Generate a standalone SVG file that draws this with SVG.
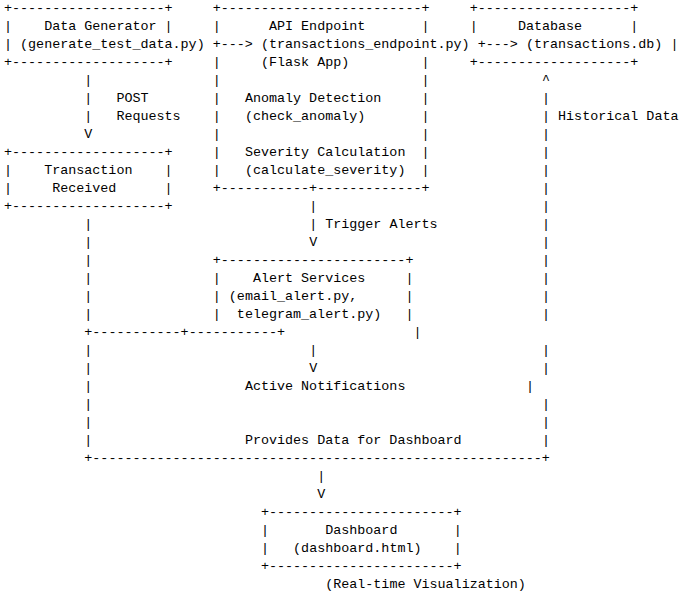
<svg xmlns="http://www.w3.org/2000/svg" width="690" height="613" viewBox="0 0 690 613" xml:space="preserve">
<style>
text { font-family: "Liberation Mono", "DejaVu Sans Mono", monospace; font-size: 13.38px; fill: #000; white-space: pre; }
</style>
<rect x="0" y="0" width="690" height="613" fill="#fff"/>
<g id="data-generator">
<text x="4" y="11.5">+-------------------+</text>
<text x="4" y="29.5">|</text><text x="44.15" y="29.5">Data Generator</text><text x="164.6" y="29.5">|</text>
<text x="4" y="47.5">| (generate_test_data.py)</text>
<text x="4" y="65.5">+-------------------+</text>
</g>
<g id="api-endpoint">
<text x="212.78" y="11.5">+-------------------------+</text>
<text x="212.78" y="29.5">|</text><text x="268.99" y="29.5">API Endpoint</text><text x="421.56" y="29.5">|</text>
<text x="260.96" y="47.5">(transactions_endpoint.py)</text>
<text x="212.78" y="65.5">|</text><text x="260.96" y="65.5">(Flask App)</text><text x="421.56" y="65.5">|</text>
<text x="212.78" y="83.5">|</text><text x="421.56" y="83.5">|</text>
<text x="212.78" y="101.5">|</text><text x="244.9" y="101.5">Anomaly Detection</text><text x="421.56" y="101.5">|</text>
<text x="212.78" y="119.5">|</text><text x="244.9" y="119.5">(check_anomaly)</text><text x="421.56" y="119.5">|</text>
<text x="212.78" y="137.5">|</text><text x="421.56" y="137.5">|</text>
<text x="212.78" y="155.5">|</text><text x="244.9" y="155.5">Severity Calculation</text><text x="421.56" y="155.5">|</text>
<text x="212.78" y="173.5">|</text><text x="244.9" y="173.5">(calculate_severity)</text><text x="421.56" y="173.5">|</text>
<text x="212.78" y="191.5">+-----------+-------------+</text>
</g>
<g id="database">
<text x="469.74" y="11.5">+-------------------+</text>
<text x="469.74" y="29.5">|</text><text x="517.92" y="29.5">Database</text><text x="630.34" y="29.5">|</text>
<text x="525.95" y="47.5">(transactions.db)</text><text x="670.49" y="47.5">|</text>
<text x="469.74" y="65.5">+-------------------+</text>
</g>
<g id="transaction-received">
<text x="4" y="155.5">+-------------------+</text>
<text x="4" y="173.5">|</text><text x="44.15" y="173.5">Transaction</text><text x="164.6" y="173.5">|</text>
<text x="4" y="191.5">|</text><text x="52.18" y="191.5">Received</text><text x="164.6" y="191.5">|</text>
<text x="4" y="209.5">+-------------------+</text>
</g>
<g id="alert-services">
<text x="212.78" y="263.5">+-----------------------+</text>
<text x="212.78" y="281.5">|</text><text x="252.93" y="281.5">Alert Services</text><text x="405.5" y="281.5">|</text>
<text x="212.78" y="299.5">|</text><text x="228.84" y="299.5">(email_alert.py,</text><text x="405.5" y="299.5">|</text>
<text x="212.78" y="317.5">|</text><text x="236.87" y="317.5">telegram_alert.py)</text><text x="405.5" y="317.5">|</text>
</g>
<g id="dashboard">
<text x="260.96" y="515.5">+-----------------------+</text>
<text x="260.96" y="533.5">|</text><text x="325.2" y="533.5">Dashboard</text><text x="453.68" y="533.5">|</text>
<text x="260.96" y="551.5">|</text><text x="293.08" y="551.5">(dashboard.html)</text><text x="453.68" y="551.5">|</text>
<text x="260.96" y="569.5">+-----------------------+</text>
<text x="325.2" y="587.5">(Real-time Visualization)</text>
</g>
<g id="connectors">
<text x="212.78" y="47.5">+---&gt;</text>
<text x="477.77" y="47.5">+---&gt;</text>
<text x="84.3" y="83.5">|</text>
<text x="84.3" y="101.5">|</text><text x="116.42" y="101.5">POST</text>
<text x="84.3" y="119.5">|</text><text x="116.42" y="119.5">Requests</text>
<text x="84.3" y="137.5">V</text>
<text x="542.01" y="83.5">^</text>
<text x="542.01" y="101.5">|</text>
<text x="542.01" y="119.5">|</text><text x="558.07" y="119.5">Historical Data</text>
<text x="542.01" y="137.5">|</text>
<text x="542.01" y="155.5">|</text>
<text x="542.01" y="173.5">|</text>
<text x="542.01" y="191.5">|</text>
<text x="542.01" y="209.5">|</text>
<text x="542.01" y="227.5">|</text>
<text x="542.01" y="245.5">|</text>
<text x="542.01" y="263.5">|</text>
<text x="542.01" y="281.5">|</text>
<text x="542.01" y="299.5">|</text>
<text x="542.01" y="317.5">|</text>
<text x="542.01" y="353.5">|</text>
<text x="542.01" y="371.5">|</text>
<text x="525.95" y="389.5">|</text>
<text x="542.01" y="407.5">|</text>
<text x="542.01" y="425.5">|</text>
<text x="542.01" y="443.5">|</text>
<text x="309.14" y="209.5">|</text>
<text x="309.14" y="227.5">|</text><text x="325.2" y="227.5">Trigger Alerts</text>
<text x="309.14" y="245.5">V</text>
<text x="84.3" y="227.5">|</text>
<text x="84.3" y="245.5">|</text>
<text x="84.3" y="263.5">|</text>
<text x="84.3" y="281.5">|</text>
<text x="84.3" y="299.5">|</text>
<text x="84.3" y="317.5">|</text>
<text x="84.3" y="335.5">+-----------+-----------+</text>
<text x="413.53" y="335.5">|</text>
<text x="84.3" y="353.5">|</text>
<text x="84.3" y="371.5">|</text>
<text x="84.3" y="389.5">|</text>
<text x="84.3" y="407.5">|</text>
<text x="84.3" y="425.5">|</text>
<text x="84.3" y="443.5">|</text>
<text x="309.14" y="353.5">|</text>
<text x="309.14" y="371.5">V</text>
<text x="244.9" y="389.5">Active Notifications</text>
<text x="244.9" y="443.5">Provides Data for Dashboard</text>
<text x="84.3" y="461.5">+--------------------------------------------------------+</text>
<text x="317.17" y="479.5">|</text>
<text x="317.17" y="497.5">V</text>
</g>
</svg>
